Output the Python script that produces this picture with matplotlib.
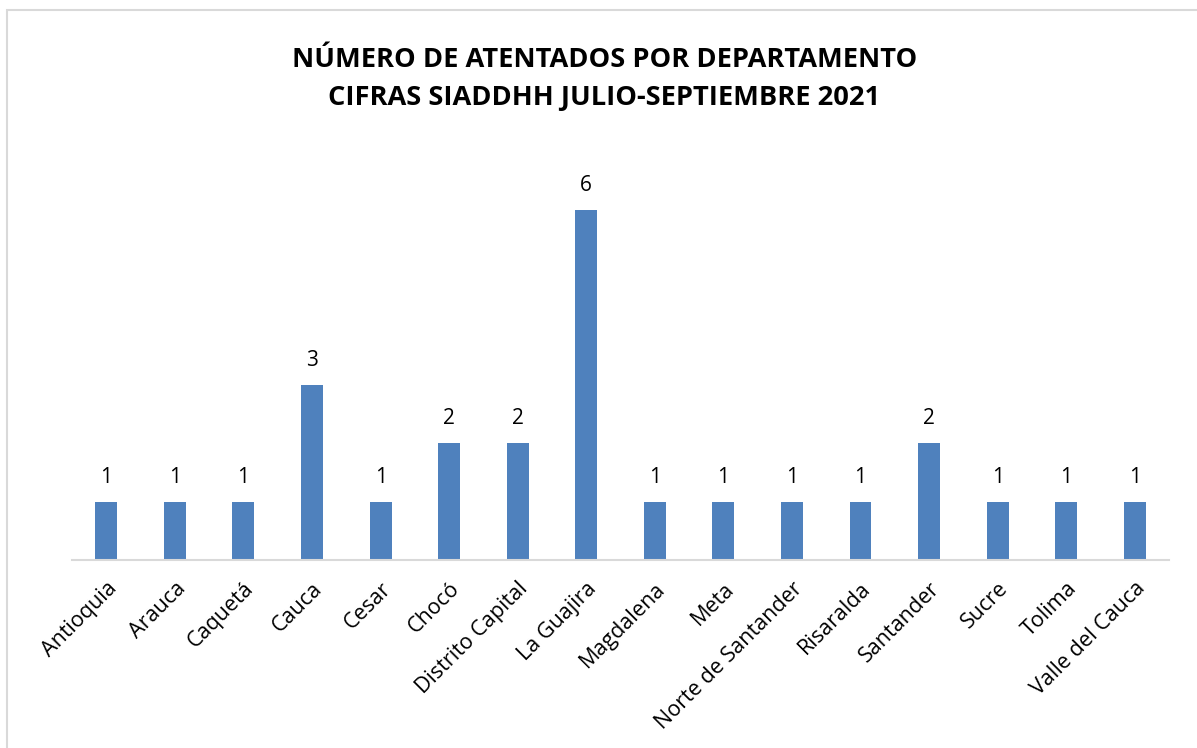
import matplotlib.pyplot as plt
from matplotlib.patches import Rectangle
import numpy as np

departamentos = ['Antioquia', 'Arauca', 'Caquetá', 'Cauca', 'Cesar', 'Chocó',
                 'Distrito Capital', 'La Guajira', 'Magdalena', 'Meta',
                 'Norte de Santander', 'Risaralda', 'Santander', 'Sucre',
                 'Tolima', 'Valle del Cauca']
atentados = [1, 1, 1, 3, 1, 2, 2, 6, 1, 1, 1, 1, 2, 1, 1, 1]

plt.rcParams['font.family'] = ['Open Sans', 'DejaVu Sans']

fig = plt.figure(figsize=(11.97, 7.48), dpi=100)
fig.patches.append(Rectangle((7 / 1197, -0.01), 1.2, 1 - 10 / 748 + 0.01,
                             transform=fig.transFigure, fill=False,
                             edgecolor='#d9d9d9', linewidth=1.5))

ax = fig.add_axes([0.0602, 0.2513, 0.9164, 0.5455])
xs = np.arange(len(departamentos))
bars = ax.bar(xs, atentados, width=0.32, color='#4f81bd')

for b, v in zip(bars, atentados):
    ax.text(b.get_x() + b.get_width() / 2, v + 0.24, str(v),
            ha='center', va='bottom', fontsize=15)

ax.set_xlim(-0.5, len(departamentos) - 0.5)
ax.set_ylim(0, 7)
ax.set_yticks([])
for s in ['top', 'right', 'left']:
    ax.spines[s].set_visible(False)
ax.spines['bottom'].set_color('#d9d9d9')
ax.spines['bottom'].set_linewidth(1.5)

ax.set_xticks(xs)
ax.set_xticklabels(departamentos, rotation=45, ha='right',
                   rotation_mode='anchor', fontsize=15.5)
ax.tick_params(axis='x', length=0, pad=13)

fig.text(0.505, 0.895, 'NÚMERO DE ATENTADOS POR DEPARTAMENTO\nCIFRAS SIADDHH JULIO-SEPTIEMBRE 2021',
         ha='center', va='center', fontsize=19.6, fontweight='bold',
         linespacing=1.6)

plt.savefig('out.png', dpi=100)
